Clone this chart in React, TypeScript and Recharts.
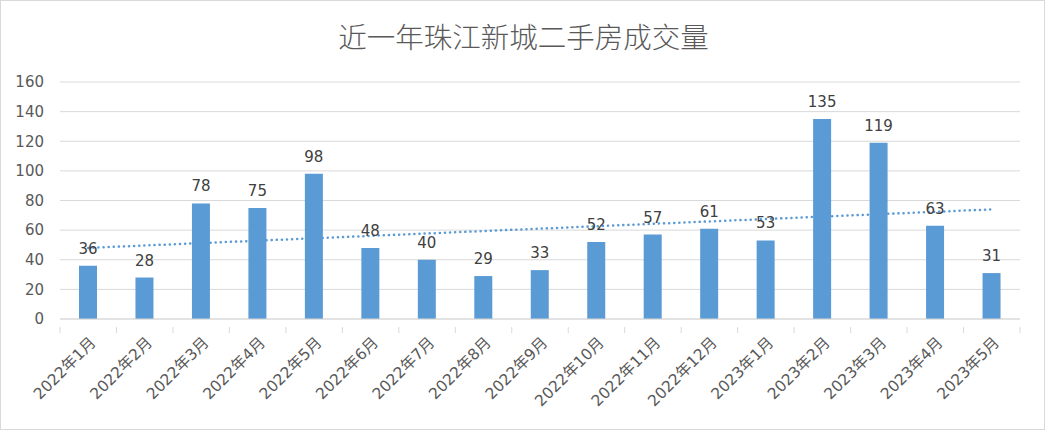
import React from 'react';
import { BarChart, Bar, XAxis, YAxis, CartesianGrid, LabelList, ReferenceLine } from 'recharts';

const months = [
  '2022年1月', '2022年2月', '2022年3月', '2022年4月', '2022年5月', '2022年6月',
  '2022年7月', '2022年8月', '2022年9月', '2022年10月', '2022年11月', '2022年12月',
  '2023年1月', '2023年2月', '2023年3月', '2023年4月', '2023年5月',
];
const volumes = [36, 28, 78, 75, 98, 48, 40, 29, 33, 52, 57, 61, 53, 135, 119, 63, 31];
const yTicks = [0, 20, 40, 60, 80, 100, 120, 140, 160];
// trend line end points
const trendStart = 48;
const trendEnd = 74;

const data = months.map((m, i) => ({ month: m, value: volumes[i] }));

const W = 1045;
const H = 430;
const FONT = '"DejaVu Sans", "Noto Sans CJK SC", sans-serif';
const TITLE_FONT = '"Noto Sans CJK SC", sans-serif';
const PLOT_LEFT = 60;
const PLOT_RIGHT = 1020;
const HALF_BAND = (PLOT_RIGHT - PLOT_LEFT) / months.length / 2;

const MonthTick = ({ x, y, payload, index }: any) => (
  <g>
    <line x1={x - HALF_BAND} y1={y} x2={x - HALF_BAND} y2={y + 6} stroke="#d9d9d9" />
    {index === months.length - 1 && (
      <line x1={x + HALF_BAND} y1={y} x2={x + HALF_BAND} y2={y + 6} stroke="#d9d9d9" />
    )}
    <text
      x={x + 5}
      y={y + 13}
      transform={`rotate(-45, ${x + 5}, ${y + 13})`}
      textAnchor="end"
      dominantBaseline="central"
      fill="#595959"
      fontSize={15.5}
      fontFamily={FONT}
    >
      {payload.value}
    </text>
  </g>
);

export default function App() {
  return (
    <div
      style={{
        position: 'absolute',
        left: 0,
        top: 0,
        width: W,
        height: H,
        border: '1px solid #d9d9d9',
        boxSizing: 'border-box',
        background: '#fff',
      }}
    >
      <div
        style={{
          position: 'absolute',
          left: 0,
          top: 15,
          width: W,
          textAlign: 'center',
          fontFamily: TITLE_FONT,
          fontSize: 28.5,
          fontWeight: 300,
          color: '#595959',
          lineHeight: '40px',
        }}
      >
        近一年珠江新城二手房成交量
      </div>
      <div style={{ position: 'absolute', left: -1, top: -1 }}>
        <BarChart
          width={W}
          height={H}
          data={data}
          margin={{ top: 82, right: W - PLOT_RIGHT, left: 0, bottom: 0 }}
        >
          <CartesianGrid vertical={false} stroke="#d9d9d9" />
          <XAxis
            dataKey="month"
            height={H - 319}
            interval={0}
            axisLine={{ stroke: '#d9d9d9' }}
            tickLine={false}
            tick={<MonthTick />}
          />
          <YAxis
            width={PLOT_LEFT}
            domain={[0, 160]}
            ticks={yTicks}
            axisLine={false}
            tickLine={false}
            tickSize={0}
            tickMargin={16}
            tick={{ fill: '#595959', fontSize: 15, fontFamily: FONT }}
          />
          <Bar dataKey="value" fill="#5b9bd5" barSize={18} isAnimationActive={false}>
            <LabelList
              dataKey="value"
              position="top"
              offset={12}
              fill="#404040"
              fontSize={15}
              fontFamily={FONT}
            />
          </Bar>
          <ReferenceLine
            segment={[
              { x: months[0], y: trendStart },
              { x: months[months.length - 1], y: trendEnd },
            ]}
            stroke="#5b9bd5"
            strokeWidth={2.5}
            strokeDasharray="0.1 5"
            strokeLinecap="round"
          />
        </BarChart>
      </div>
    </div>
  );
}
